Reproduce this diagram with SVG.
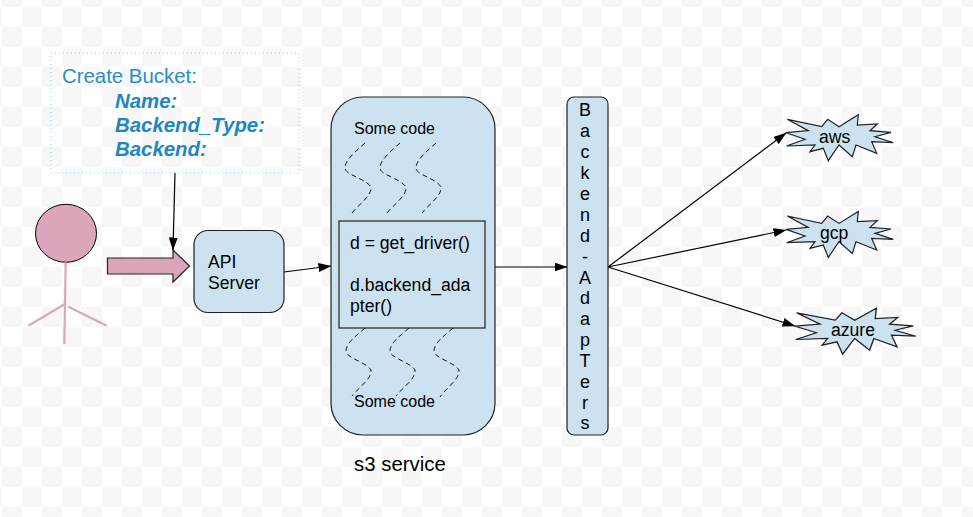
<svg xmlns="http://www.w3.org/2000/svg" width="973" height="517" viewBox="0 0 973 517">
<style>
text{font-family:"Liberation Sans",Arial,sans-serif;fill:#000}
.n{fill:#cce2f0;stroke:#222;stroke-width:1.2}
.c{fill:none;stroke:#000;stroke-width:1.2}
.w{fill:none;stroke:#111;stroke-width:1;stroke-dasharray:5 3.500}
.s{fill:none;stroke:#dba6bb;stroke-width:2.2}
.m{font-size:17.6px}
.x{font-size:16px}
.b{font-size:20.400px;font-weight:bold;font-style:italic;fill:#1f86c1}
</style>
<defs>
<pattern id="chk" width="40" height="40" patternUnits="userSpaceOnUse" x="2" y="27">
<rect x="0" y="0" width="20" height="20" fill="#f7f7f7"/><rect x="20" y="20" width="20" height="20" fill="#f7f7f7"/>
</pattern>
<marker id="a" markerWidth="13" markerHeight="9" refX="12.500" refY="4.500" orient="auto" markerUnits="userSpaceOnUse"><path d="M0 0L13 4.500L0 9Z" fill="#000"/></marker>
<polygon id="star" points="787.3,119.3 821.7,126.7 827.7,119.3 839,126.7 858.3,114.7 857.3,125 877.3,124 870,130.7 891,132.3 875,136.7 893.3,142.7 871.7,141.7 876.7,153.3 856,145 852.3,156.7 839,145 828.3,160.7 823.3,148.3 810,151.7 815,145 786.7,146 805,139.3 786,132.7 808.3,130.7"/>
</defs>
<rect width="973" height="517" fill="#fff"/>
<rect width="973" height="517" fill="url(#chk)"/>
<g id="connectors">
<path class="c" d="M175 173L173 250" marker-end="url(#a)"/>
<path class="c" d="M284 272L331 266" marker-end="url(#a)"/>
<path class="c" d="M495 267L567 267" marker-end="url(#a)"/>
<path class="c" d="M608 267L786 133" marker-end="url(#a)"/>
<path class="c" d="M608 267L786 230" marker-end="url(#a)"/>
<path class="c" d="M608 267L795 326" marker-end="url(#a)"/>
</g>
<g id="create-bucket">
<rect x="51" y="53" width="248" height="120" fill="none" stroke="#9ecbe8" stroke-width="1" stroke-dasharray="1 3"/>
<text x="62" y="83" font-size="20.400" style="fill:#2c8dc6">Create Bucket:</text>
<text class="b" x="115" y="108">Name:</text>
<text class="b" x="115" y="132">Backend_Type:</text>
<text class="b" x="115" y="156">Backend:</text>
</g>
<g id="actor">
<ellipse cx="66" cy="233.300" rx="30.500" ry="29" fill="#dba6bb" stroke="#000" stroke-width="1"/>
<path class="s" d="M65.700 262.300L64.300 344M65 304L28.300 325.700M68.300 306.700L106.700 325.700"/>
</g>
<g id="big-arrow">
<path d="M107.500 258H173V250L189.500 266L173 282V274H107.500Z" fill="#dba6bb" stroke="#222" stroke-width="1.200"/>
</g>
<g id="api-server">
<rect class="n" x="194" y="230.500" width="90" height="82" rx="14"/>
<text class="m" x="208" y="267.500">API</text>
<text class="m" x="208" y="289">Server</text>
</g>
<g id="s3-service">
<rect class="n" x="331" y="97" width="164" height="338" rx="32"/>
<text class="x" x="354" y="134">Some code</text>
<path class="w" d="M365 143C356 151 345 160 345 168C345 175 365 178 371 187C372 196 358 205 352 213"/>
<path class="w" d="M400 143C391 151 380 160 380 168C380 175 400 178 406 187C407 196 393 205 387 213"/>
<path class="w" d="M436 143C427 151 416 160 416 168C416 175 436 178 441 187C442 196 428 205 422 213"/>
<rect class="n" x="339" y="221" width="146" height="107"/>
<text class="m" x="350" y="249">d = get_driver()</text>
<text class="m" x="350" y="291">d.backend_ada</text>
<text class="m" x="350" y="312">pter()</text>
<path class="w" d="M365 328C356 336 346 343 346 351C346 358 366 362 371 370C372 379 358 388 352 396"/>
<path class="w" d="M409 328C400 336 390 343 390 351C390 358 410 362 415 370C416 379 402 388 396 396"/>
<path class="w" d="M453 328C444 336 434 343 434 351C434 358 454 362 459 370C460 379 446 388 440 397"/>
<text class="x" x="354" y="407">Some code</text>
</g>
<text id="s3-label" x="354" y="471" font-size="20.400">s3 service</text>
<g id="backend-adapters">
<rect class="n" x="567" y="97" width="41" height="338" rx="7"/>
<g text-anchor="middle" style="font-size:18px">
<text x="585" y="116">B</text><text x="585" y="137">a</text><text x="585" y="158">c</text><text x="585" y="179">k</text><text x="585" y="200">e</text><text x="585" y="221">n</text><text x="585" y="242">d</text><text x="585" y="263">-</text><text x="585" y="284">A</text><text x="585" y="304">d</text><text x="585" y="325">a</text><text x="585" y="346">p</text><text x="585" y="367">T</text><text x="585" y="388">e</text><text x="585" y="409">r</text><text x="585" y="429">s</text>
</g>
</g>
<g id="aws"><use href="#star" class="n"/><text class="m" x="819" y="143">aws</text></g>
<g id="gcp"><use href="#star" class="n" transform="translate(0 96.700)"/><text class="m" x="820" y="239">gcp</text></g>
<g id="azure"><use href="#star" class="n" transform="translate(-89.200 193.500) scale(1.125 1)"/><text class="m" x="831" y="336">azure</text></g>
</svg>
